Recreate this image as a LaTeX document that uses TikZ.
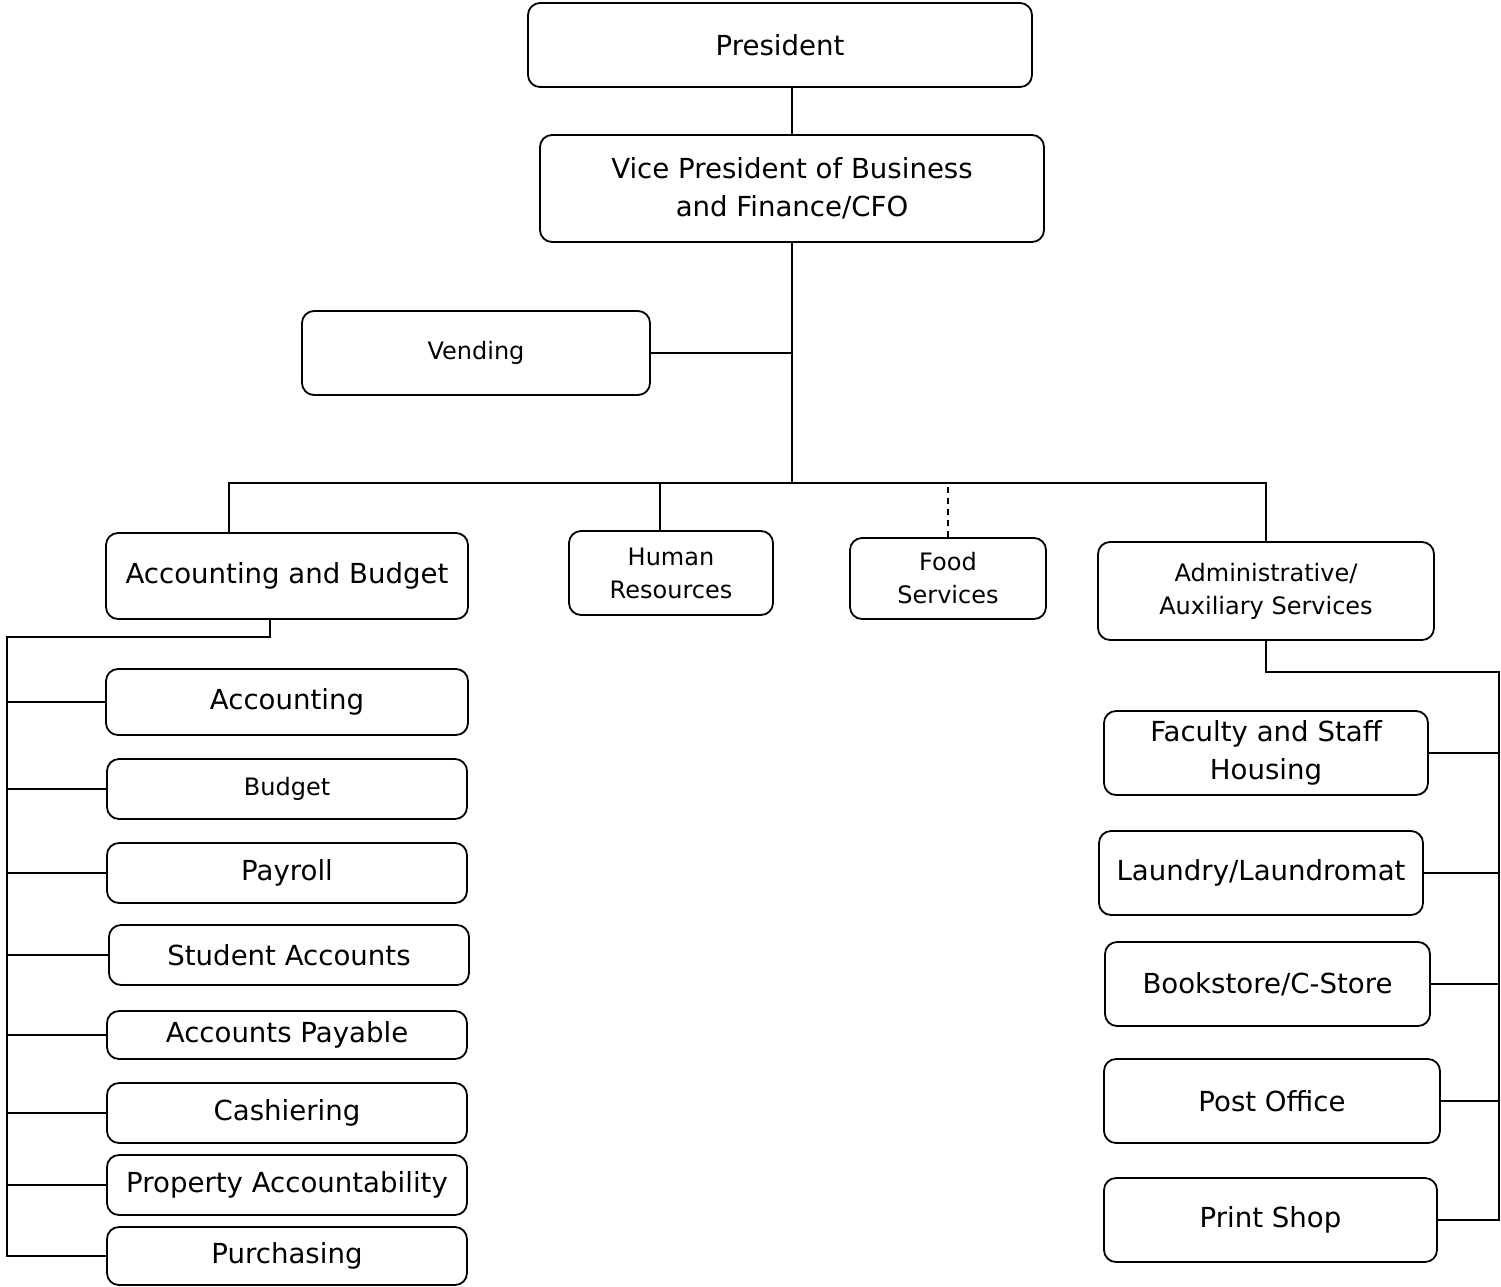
\documentclass[tikz,border=0pt]{standalone}
\usepackage{fontspec}
\setmainfont{DejaVu Sans}
\begin{document}
\begin{tikzpicture}[
			x=1pt, y=-1pt,
			box/.style={draw, rounded corners=12pt, line width=1.8pt, inner sep=0pt, align=center},
			bigtext/.style={font=\fontsize{27.6}{38}\selectfont},
			smalltext/.style={font=\fontsize{24}{33}\selectfont},
			link/.style={line width=1.8pt}
		]
		\useasboundingbox (0,0) rectangle (1501,1286);
		% top of the chart
		\node[box, bigtext, minimum width=504pt, minimum height=84pt] (president) at (780,45) {President};
		\node[box, bigtext, minimum width=504pt, minimum height=107pt] (vp) at (792,188.5) {Vice President of Business\\and Finance/CFO};
		\node[box, smalltext, minimum width=348pt, minimum height=84pt] (vending) at (476,353) {Vending};
		% second level
		\node[box, bigtext, minimum width=362pt, minimum height=86pt] (acctbudget) at (287,576) {Accounting and Budget};
		\node[box, smalltext, minimum width=204pt, minimum height=84pt] (hr) at (671,573) {Human\\Resources};
		\node[box, smalltext, minimum width=196pt, minimum height=81pt] (food) at (948,578.5) {Food\\Services};
		\node[box, smalltext, minimum width=336pt, minimum height=98pt] (admin) at (1266,591) {Administrative/\\Auxiliary Services};
		% accounting and budget units
		\node[box, bigtext, minimum width=362pt, minimum height=66pt] (accounting) at (287,702) {Accounting};
		\node[box, smalltext, minimum width=360pt, minimum height=60pt] (budget) at (287,789) {Budget};
		\node[box, bigtext, minimum width=360pt, minimum height=60pt] (payroll) at (287,873) {Payroll};
		\node[box, bigtext, minimum width=360pt, minimum height=60pt] (studacc) at (289,955) {Student Accounts};
		\node[box, bigtext, minimum width=360pt, minimum height=48pt] (accpay) at (287,1035) {Accounts Payable};
		\node[box, bigtext, minimum width=360pt, minimum height=60pt] (cashiering) at (287,1113) {Cashiering};
		\node[box, bigtext, minimum width=360pt, minimum height=60pt] (property) at (287,1185) {Property Accountability};
		\node[box, bigtext, minimum width=360pt, minimum height=58pt] (purchasing) at (287,1256) {Purchasing};
		% auxiliary units
		\node[box, bigtext, minimum width=324pt, minimum height=84pt] (housing) at (1266,753) {Faculty and Staff\\Housing};
		\node[box, bigtext, minimum width=324pt, minimum height=84pt] (laundry) at (1261,873) {Laundry/Laundromat};
		\node[box, bigtext, minimum width=325pt, minimum height=84pt] (bookstore) at (1267.5,984) {Bookstore/C-Store};
		\node[box, bigtext, minimum width=336pt, minimum height=84pt] (postoffice) at (1272,1101) {Post Office};
		\node[box, bigtext, minimum width=333pt, minimum height=84pt] (printshop) at (1270.5,1220) {Print Shop};
		% connectors
		\coordinate (bus) at (792,483);
		\coordinate (busleft) at (229,483);
		\coordinate (lspine) at (7,637);
		\coordinate (rspine) at (1499,672);
		\draw[link] (vp.north) -- (vp.north |- president.south);
		\draw[link] (vp.south) -- (bus);
		\draw[link] (vending.east) -- (vending.east -| bus);
		\draw[link] (acctbudget.north -| busleft) -- (busleft) -- (bus -| admin.north) -- (admin.north);
		\draw[link] ([xshift=-11pt]hr.north) -- ([xshift=-11pt]hr.north |- bus);
		\draw[link, dash pattern=on 6pt off 5pt] (food.north) -- (food.north |- bus);
		% left tree
		\draw[link] ([xshift=-17pt]acctbudget.south) |- (lspine) -- (lspine |- purchasing.west) -- (purchasing.west);
		\draw[link] (lspine |- accounting.west) -- (accounting.west);
		\draw[link] (lspine |- budget.west) -- (budget.west);
		\draw[link] (lspine |- payroll.west) -- (payroll.west);
		\draw[link] (lspine |- studacc.west) -- (studacc.west);
		\draw[link] (lspine |- accpay.west) -- (accpay.west);
		\draw[link] (lspine |- cashiering.west) -- (cashiering.west);
		\draw[link] (lspine |- property.west) -- (property.west);
		% right tree
		\draw[link] (admin.south) |- (rspine) -- (rspine |- printshop.east) -- (printshop.east);
		\draw[link] (housing.east) -- (housing.east -| rspine);
		\draw[link] (laundry.east) -- (laundry.east -| rspine);
		\draw[link] (bookstore.east) -- (bookstore.east -| rspine);
		\draw[link] (postoffice.east) -- (postoffice.east -| rspine);
	\end{tikzpicture}
\end{document}
